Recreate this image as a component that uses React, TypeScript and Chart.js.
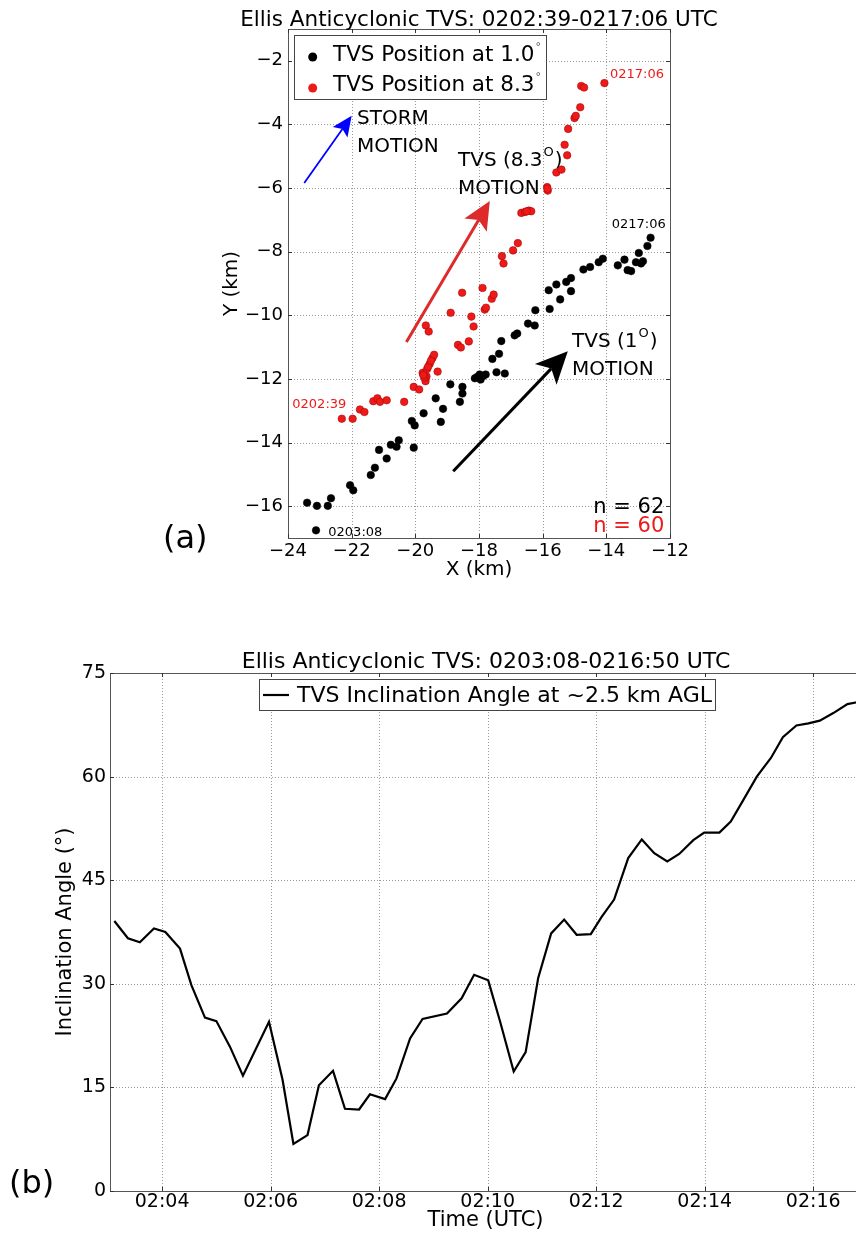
import React, { useEffect, useRef } from "react";
import { Chart, registerables } from "chart.js";
Chart.register(...registerables);

const FONT = "'DejaVu Sans', sans-serif";

// ---------- Panel (a): TVS positions ----------
const titleA = "Ellis Anticyclonic TVS: 0202:39-0217:06 UTC";
const legendLabelsA = ["TVS Position at 1.0", "TVS Position at 8.3"];
const xTicksA = [-24, -22, -20, -18, -16, -14, -12];
const yTicksA = [-16, -14, -12, -10, -8, -6, -4, -2];

const tvs1X = [
  -23.12, -23.4, -23.09, -22.75, -22.65, -22.05, -21.95, -21.4, -21.27, -21.14,
  -20.9, -20.77, -20.59, -20.52, -20.05, -20.11, -20.02, -19.74, -19.36, -19.13,
  -19.2, -18.9, -18.52, -18.52, -18.6, -18.13, -18.05, -17.98, -17.87, -17.79,
  -17.95, -17.58, -17.37, -17.3, -17.45, -17.19, -16.88, -16.8, -16.46, -16.25,
  -16.23, -15.78, -15.81, -15.57, -15.45, -15.26, -15.11, -15.11, -14.72, -14.51,
  -14.24, -14.11, -13.64, -13.43, -13.33, -13.22, -13.07, -12.98, -12.91, -12.85,
  -12.71, -12.61,
];
const tvs1Y = [
  -16.76, -15.89, -15.99, -15.99, -15.75, -15.34, -15.5, -15.02, -14.79, -14.23,
  -14.5, -14.07, -14.13, -13.93, -14.16, -13.32, -13.46, -13.08, -12.61, -12.94,
  -13.35, -12.17, -12.25, -12.46, -12.72, -11.98, -11.93, -11.86, -11.91, -11.86,
  -12.02, -11.37, -11.21, -10.81, -11.79, -11.83, -10.63, -10.57, -10.26, -10.32,
  -9.84, -9.8, -9.21, -9.03, -9.5, -8.95, -8.83, -9.24, -8.56, -8.48,
  -8.33, -8.22, -8.43, -8.25, -8.58, -8.61, -8.33, -8.04, -8.37, -8.3,
  -7.82, -7.56,
];
const tvs83X = [
  -22.31, -21.97, -21.74, -21.6, -21.32, -21.19, -21.11, -20.9, -20.35, -20.05,
  -19.88, -19.77, -19.68, -19.65, -19.3, -19.63, -19.55, -19.46, -19.41, -19.67,
  -19.58, -18.89, -18.66, -18.57, -18.32, -18.53, -18.24, -18.17, -17.89, -17.82,
  -17.78, -17.6, -17.54, -17.28, -17.23, -16.93, -16.78, -16.67, -16.55, -16.43,
  -16.36, -15.84, -15.86, -15.57, -15.41, -15.23, -15.31, -15.2, -15.0, -14.96,
  -14.82, -14.79, -14.7, -14.06, -19.72, -19.6, -15.85, -16.5, -19.51, -19.75,
];
const tvs83Y = [
  -13.25, -13.25, -12.96, -13.04, -12.7, -12.61, -12.72, -12.67, -12.72, -12.25,
  -12.33, -11.81, -12.07, -11.92, -11.77, -11.69, -11.53, -11.34, -11.24, -10.32,
  -10.51, -9.92, -10.93, -11.01, -10.82, -9.29, -10.04, -10.35, -9.14, -9.82,
  -9.76, -9.48, -9.35, -8.14, -8.37, -7.96, -7.73, -6.78, -6.75, -6.71,
  -6.73, -6.08, -5.97, -5.51, -5.42, -4.97, -4.64, -4.14, -3.8, -3.73,
  -3.46, -2.79, -2.84, -2.7, -11.95, -11.62, -6.02, -6.73, -11.43, -11.88,
];

// ---------- Panel (b): inclination angle ----------
const titleB = "Ellis Anticyclonic TVS: 0203:08-0216:50 UTC";
const legendLabelB = "TVS Inclination Angle at ~2.5 km AGL";
const xTicksB = [4, 6, 8, 10, 12, 14, 16]; // minutes after 02:00 UTC
const yTicksB = [0, 15, 30, 45, 60, 75];
const timeMin = [
  3.12, 3.37, 3.59, 3.85, 4.06, 4.33, 4.54, 4.79, 5.0, 5.25, 5.49, 5.97, 6.22, 6.42,
  6.68, 6.89, 7.15, 7.37, 7.63, 7.83, 8.11, 8.32, 8.57, 8.8, 9.25, 9.52, 9.75, 10.01,
  10.23, 10.48, 10.7, 10.93, 11.17, 11.41, 11.64, 11.9, 12.1, 12.33, 12.59, 12.84,
  13.07, 13.31, 13.53, 13.79, 13.99, 14.27, 14.48, 14.71, 14.96, 15.22, 15.44, 15.69,
  15.91, 16.12, 16.37, 16.63, 16.83,
];
const inclination = [
  39.1, 36.6, 36.0, 38.0, 37.5, 35.1, 29.8, 25.1, 24.6, 20.9, 16.7, 24.5, 16.1, 6.8,
  8.1, 15.3, 17.4, 11.9, 11.8, 14.0, 13.3, 16.3, 22.1, 24.9, 25.7, 27.9, 31.3, 30.5,
  24.5, 17.3, 20.1, 30.8, 37.3, 39.3, 37.1, 37.2, 39.7, 42.2, 48.2, 50.9,
  48.9, 47.7, 48.8, 50.8, 51.9, 51.9, 53.5, 56.6, 60.0, 62.7, 65.7, 67.4,
  67.7, 68.1, 69.2, 70.5, 70.8,
];

const RED = "#ee1a1a";
const fmtMinus = (v: number) => (v < 0 ? "\u2212" + Math.abs(v) : String(v));

function drawArrow(ctx: CanvasRenderingContext2D, x1: number, y1: number, x2: number, y2: number,
  color: string, lw: number, headLen: number, headHalf: number, notch: number) {
  const a = Math.atan2(y2 - y1, x2 - x1);
  const c = Math.cos(a), s = Math.sin(a);
  const px = -s, py = c;
  const nx = x2 - c * (headLen - notch), ny = y2 - s * (headLen - notch);
  ctx.save();
  ctx.strokeStyle = color; ctx.fillStyle = color; ctx.lineWidth = lw; ctx.lineCap = "butt";
  ctx.beginPath(); ctx.moveTo(x1, y1); ctx.lineTo(nx, ny); ctx.stroke();
  const bx = x2 - c * headLen, by = y2 - s * headLen;
  ctx.beginPath();
  ctx.moveTo(x2, y2);
  ctx.lineTo(bx + px * headHalf, by + py * headHalf);
  ctx.lineTo(nx, ny);
  ctx.lineTo(bx - px * headHalf, by - py * headHalf);
  ctx.closePath();
  ctx.fill();
  ctx.restore();
}

function drawGrid(chart: any, xt: number[], yt: number[]) {
  const { ctx, chartArea: ca, scales } = chart;
  ctx.save();
  ctx.strokeStyle = "#9a9a9a"; ctx.lineWidth = 1; ctx.setLineDash([1, 2]);
  xt.forEach((v) => {
    const x = Math.round(scales.x.getPixelForValue(v)) + 0.5;
    ctx.beginPath(); ctx.moveTo(x, ca.top); ctx.lineTo(x, ca.bottom); ctx.stroke();
  });
  yt.forEach((v) => {
    const y = Math.round(scales.y.getPixelForValue(v)) + 0.5;
    ctx.beginPath(); ctx.moveTo(ca.left, y); ctx.lineTo(ca.right, y); ctx.stroke();
  });
  ctx.setLineDash([]);
  ctx.strokeStyle = "#555"; ctx.lineWidth = 1;
  ctx.strokeRect(Math.round(ca.left) + 0.5, Math.round(ca.top) + 0.5,
    Math.round(ca.right - ca.left), Math.round(ca.bottom - ca.top));
  // inward tick marks
  ctx.strokeStyle = "#333";
  xt.forEach((v) => {
    const x = Math.round(scales.x.getPixelForValue(v)) + 0.5;
    ctx.beginPath(); ctx.moveTo(x, ca.bottom); ctx.lineTo(x, ca.bottom - 4);
    ctx.moveTo(x, ca.top); ctx.lineTo(x, ca.top + 4); ctx.stroke();
  });
  yt.forEach((v) => {
    const y = Math.round(scales.y.getPixelForValue(v)) + 0.5;
    ctx.beginPath(); ctx.moveTo(ca.left, y); ctx.lineTo(ca.left + 4, y);
    ctx.moveTo(ca.right, y); ctx.lineTo(ca.right - 4, y); ctx.stroke();
  });
  ctx.restore();
}

function text(ctx: CanvasRenderingContext2D, s: string, x: number, y: number, size: number,
  color = "#000", align: CanvasTextAlign = "left", family = FONT) {
  ctx.font = `${size}px ${family}`;
  ctx.fillStyle = color; ctx.textAlign = align; ctx.textBaseline = "alphabetic";
  ctx.fillText(s, x, y);
  return ctx.measureText(s).width;
}

const annotA = {
  id: "annotA",
  beforeDatasetsDraw(chart: any) { drawGrid(chart, xTicksA, yTicksA); },
  afterDraw(chart: any) {
    const { ctx, scales } = chart;
    const X = (v: number) => scales.x.getPixelForValue(v);
    const Y = (v: number) => scales.y.getPixelForValue(v);
    ctx.save();
    text(ctx, titleA, 479, 25.5, 21.5, "#000", "center");
    // legend
    ctx.fillStyle = "#fff"; ctx.fillRect(294.5, 35.5, 252, 64);
    ctx.strokeStyle = "#444"; ctx.lineWidth = 1; ctx.strokeRect(294.5, 35.5, 252, 64);
    const mk = (cx: number, cy: number, col: string) => {
      ctx.beginPath(); ctx.arc(cx, cy, 4.5, 0, Math.PI * 2); ctx.fillStyle = col; ctx.fill();
    };
    mk(312.7, 57, "#000"); mk(312.7, 88, RED);
    let w = text(ctx, legendLabelsA[0], 333, 61, 21.5);
    text(ctx, "°", 333 + w + 1, 50, 11, "#555");
    w = text(ctx, legendLabelsA[1], 333, 91, 21.5);
    text(ctx, "°", 333 + w + 1, 80, 11, "#555");
    // arrows
    drawArrow(ctx, X(-23.49), Y(-5.84), X(-22.0), Y(-3.73), "#0000ff", 1.8, 20, 9, 4);
    drawArrow(ctx, X(-20.28), Y(-10.84), X(-17.66), Y(-6.41), "#dd2a2a", 3, 28, 13, 6);
    drawArrow(ctx, X(-18.81), Y(-14.9), X(-15.21), Y(-11.13), "#000", 3, 32, 15, 8);
    // annotation texts
    text(ctx, "STORM", 357, 124, 20);
    text(ctx, "MOTION", 357, 152, 20);
    w = text(ctx, "TVS (8.3", 458, 166, 20);
    let w2 = text(ctx, "O", 458 + w + 1, 156, 13);
    text(ctx, ")", 458 + w + w2 + 2, 166, 20);
    text(ctx, "MOTION", 458, 194, 20);
    w = text(ctx, "TVS (1", 572, 347, 20);
    w2 = text(ctx, "O", 572 + w + 1, 337, 13);
    text(ctx, ")", 572 + w + w2 + 2, 347, 20);
    text(ctx, "MOTION", 572, 375, 20);
    text(ctx, "0217:06", 610, 78.3, 13, RED);
    text(ctx, "0217:06", 611.7, 228.3, 13);
    text(ctx, "0202:39", 292.3, 408.3, 13, RED);
    text(ctx, "0203:08", 328.3, 535.7, 13);
    text(ctx, "n = 62", 664.3, 513.3, 21, "#000", "right");
    text(ctx, "n = 60", 664.3, 532.3, 21, RED, "right");
    text(ctx, "(a)", 163, 548, 32);
    ctx.restore();
  },
};

const annotB = {
  id: "annotB",
  beforeDatasetsDraw(chart: any) { drawGrid(chart, xTicksB, yTicksB); },
  afterDraw(chart: any) {
    const { ctx } = chart;
    ctx.save();
    text(ctx, titleB, 486, 68.3, 22, "#000", "center");
    ctx.fillStyle = "#fff"; ctx.fillRect(259.5, 79.5, 456, 31);
    ctx.strokeStyle = "#444"; ctx.lineWidth = 1; ctx.strokeRect(259.5, 79.5, 456, 31);
    ctx.strokeStyle = "#000"; ctx.lineWidth = 2.2;
    ctx.beginPath(); ctx.moveTo(263, 95); ctx.lineTo(289, 95); ctx.stroke();
    text(ctx, legendLabelB, 297, 101.7, 22);
    text(ctx, "(b)", 9, 593, 32);
    ctx.restore();
  },
};

export default function App() {
  const refA = useRef<HTMLCanvasElement>(null);
  const refB = useRef<HTMLCanvasElement>(null);

  useEffect(() => {
    const tickFont = (size: number) => ({ family: FONT, size });
    const chartA = new Chart(refA.current!, {
      type: "scatter",
      data: {
        datasets: [
          {
            label: legendLabelsA[0],
            data: tvs1X.map((x, i) => ({ x, y: tvs1Y[i] })),
            backgroundColor: "#000", borderColor: "#000", borderWidth: 0.5, pointRadius: 3.8,
          },
          {
            label: legendLabelsA[1],
            data: tvs83X.map((x, i) => ({ x, y: tvs83Y[i] })),
            backgroundColor: RED, borderColor: "#a00000", borderWidth: 0.5, pointRadius: 3.8,
          },
        ],
      },
      options: {
        animation: false, responsive: false, devicePixelRatio: 1,
        layout: { padding: { left: 215, right: 186, top: 29, bottom: 12 } },
        plugins: { legend: { display: false }, title: { display: false }, tooltip: { enabled: false } },
        scales: {
          x: {
            type: "linear", min: -24, max: -12,
            afterBuildTicks: (s: any) => { s.ticks = xTicksA.map((v) => ({ value: v })); },
            afterFit: (s: any) => { s.height = 50; },
            grid: { display: false, drawTicks: false }, border: { display: false },
            ticks: { color: "#000", font: tickFont(18), padding: 3, maxRotation: 0, callback: (v: any) => fmtMinus(Number(v)) },
            title: { display: true, text: "X (km)", color: "#000", font: tickFont(20), padding: { top: 0, bottom: 6 } },
          },
          y: {
            type: "linear", min: -17, max: -1,
            afterBuildTicks: (s: any) => { s.ticks = yTicksA.map((v) => ({ value: v })); },
            afterFit: (s: any) => { s.width = 73; },
            grid: { display: false, drawTicks: false }, border: { display: false },
            ticks: { color: "#000", font: tickFont(18), padding: 5, callback: (v: any) => fmtMinus(Number(v)) },
            title: { display: true, text: "Y (km)", color: "#000", font: tickFont(20), padding: { top: 5, bottom: 0 } },
          },
        },
      },
      plugins: [annotA],
    } as any);

    const chartB = new Chart(refB.current!, {
      type: "line",
      data: {
        datasets: [
          {
            label: legendLabelB,
            data: timeMin.map((x, i) => ({ x, y: inclination[i] })),
            borderColor: "#000", borderWidth: 2.2, pointRadius: 0, tension: 0, fill: false,
          },
        ],
      },
      options: {
        animation: false, responsive: false, devicePixelRatio: 1,
        layout: { padding: { left: 50, right: 39, top: 73, bottom: 1 } },
        plugins: { legend: { display: false }, title: { display: false }, tooltip: { enabled: false } },
        scales: {
          x: {
            type: "linear", min: 3.04, max: 16.88,
            afterBuildTicks: (s: any) => { s.ticks = xTicksB.map((v) => ({ value: v })); },
            afterFit: (s: any) => { s.height = 42; },
            grid: { display: false, drawTicks: false }, border: { display: false },
            ticks: { color: "#000", font: tickFont(19), padding: 0, maxRotation: 0,
              callback: (v: any) => "02:" + String(Number(v)).padStart(2, "0") },
            title: { display: true, text: "Time (UTC)", color: "#000", font: tickFont(21), padding: { top: 0, bottom: 0 } },
          },
          y: {
            type: "linear", min: 0, max: 75,
            afterBuildTicks: (s: any) => { s.ticks = yTicksB.map((v) => ({ value: v })); },
            afterFit: (s: any) => { s.width = 60; },
            grid: { display: false, drawTicks: false }, border: { display: false },
            ticks: { color: "#000", font: tickFont(19), padding: 4 },
            title: { display: true, text: "Inclination Angle (°)", color: "#000", font: tickFont(21), padding: { top: 3, bottom: 0 } },
          },
        },
      },
      plugins: [annotB],
    } as any);

    return () => { chartA.destroy(); chartB.destroy(); };
  }, []);

  return (
    <div style={{ position: "fixed", left: 0, top: 0, width: 856, height: 1234, overflow: "hidden", background: "#fff" }}>
      <canvas ref={refA} width={856} height={600}
        style={{ position: "absolute", left: 0, top: 0, width: 856, height: 600 }} />
      <canvas ref={refB} width={900} height={634}
        style={{ position: "absolute", left: 0, top: 600, width: 900, height: 634 }} />
    </div>
  );
}
